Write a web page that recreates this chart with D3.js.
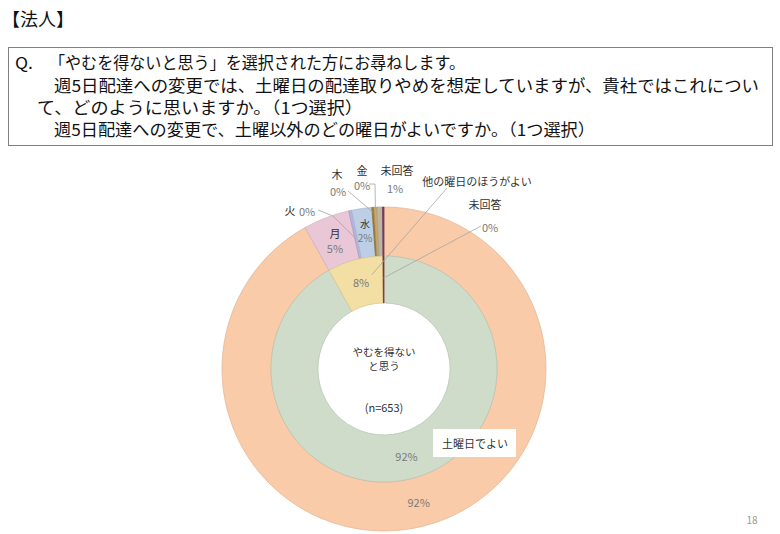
<!DOCTYPE html>
<html>
<head>
<meta charset="utf-8">
<script src="https://cdn.jsdelivr.net/npm/d3@7"></script>
<style>
  body { margin: 0; background: #fff; }
  svg { display: block; font-family: "Noto Sans CJK JP", "Noto Sans", sans-serif; }
</style>
</head>
<body>
<svg id="chart" width="780" height="534"></svg>
<script>
// inner ring: answers to the first question
const innerCats = ["土曜日でよい", "他の曜日のほうがよい", "未回答"];
const innerVals = [91.9, 7.95, 0.15];
const innerColors = ["#cfdcca", "#f3dfa3", "#8e3232"];

// outer ring: which weekday instead of Saturday
const outerCats = ["土曜日でよい", "月", "火", "水", "木", "金", "未回答", "未回答(前問)"];
const outerVals = [91.9, 4.6, 0.3, 2.0, 0.2, 0.3, 0.55, 0.15];
const outerColors = ["#f9cba8", "#e9c7d6", "#b7b3df", "#bdcfe6", "#9c7b3c", "#c9a866", "#bdb4a4", "#7b3f63"];

const sampleN = 653;

const svg = d3.select("#chart");
const cx = 384, cy = 369;
const rHole = 66, rInner = 113, rOuter = 162;

// header
svg.append("text").attr("x", 2).attr("y", 26)
  .attr("font-size", 18).attr("fill", "#111").text("【法人】");

// question box
svg.append("rect").attr("x", 8.5).attr("y", 47.5).attr("width", 764).attr("height", 98)
  .attr("fill", "none").attr("stroke", "#7f7f7f").attr("stroke-width", 1);

const qLines = [
  { x: 15, y: 69, t: "Q.", w: 18 },
  { x: 49, y: 69, t: "「やむを得ないと思う」を選択された方にお尋ねします。", w: 416 },
  { x: 54, y: 92, t: "週5日配達への変更では、土曜日の配達取りやめを想定していますが、貴社ではこれについ", w: 705 },
  { x: 37, y: 114, t: "て、どのように思いますか。（1つ選択）", w: 326 },
  { x: 54, y: 136, t: "週5日配達への変更で、土曜以外のどの曜日がよいですか。（1つ選択）", w: 541 }
];
svg.append("g").selectAll("text").data(qLines).enter().append("text")
  .attr("x", d => d.x).attr("y", d => d.y)
  .attr("font-size", 16.5).attr("fill", "#111")
  .attr("textLength", d => d.w).attr("lengthAdjust", "spacingAndGlyphs")
  .text(d => d.t);

const pie = d3.pie().sort(null).value(d => d.v);
const innerData = pie(innerCats.map((c, i) => ({ c, v: innerVals[i], col: innerColors[i] })));
const outerData = pie(outerCats.map((c, i) => ({ c, v: outerVals[i], col: outerColors[i] })));

const arcInner = d3.arc().innerRadius(rHole).outerRadius(rInner);
const arcOuter = d3.arc().innerRadius(rInner).outerRadius(rOuter);

const g = svg.append("g").attr("transform", `translate(${cx},${cy})`);

g.selectAll(".outer").data(outerData).enter().append("path")
  .attr("class", "outer")
  .attr("d", arcOuter)
  .attr("fill", d => d.data.col)
  .attr("stroke", d => d3.color(d.data.col).darker(0.35))
  .attr("stroke-width", 0.7);

g.selectAll(".inner").data(innerData).enter().append("path")
  .attr("class", "inner")
  .attr("d", arcInner)
  .attr("fill", d => d.data.col)
  .attr("stroke", d => d3.color(d.data.col).darker(0.35))
  .attr("stroke-width", 0.7);

// point on the ring at angle a (radians from 12 o'clock), radius r -> page coords
const pt = (a, r) => [cx + r * Math.sin(a), cy - r * Math.cos(a)];
const mid = d => (d.startAngle + d.endAngle) / 2;

const grey = "#7a7a7a", dark = "#333";

function label(x, y, t, col, size) {
  svg.append("text").attr("x", x).attr("y", y)
    .attr("text-anchor", "middle").attr("dominant-baseline", "central")
    .attr("font-size", size || 11).attr("fill", col).text(t);
}
// two-line label (name over percentage) as one text element
function label2(x, y, name, value, gap, size) {
  const t = svg.append("text").attr("x", x).attr("y", y)
    .attr("text-anchor", "middle").attr("font-size", size || 11);
  t.append("tspan").attr("x", x).attr("dy", 0).attr("fill", dark).text(name);
  t.append("tspan").attr("x", x).attr("dy", gap).attr("fill", grey).text(value);
}
const pct = v => Math.round(v) + "%";

// on-slice labels
const oSat = outerData[0], oMon = outerData[1], oWed = outerData[3];
let c = arcOuter.centroid(oSat);
label(cx + c[0], cy + c[1], pct(oSat.data.v), grey, 11);
c = arcOuter.centroid(oMon);
label2(cx + c[0], cy + c[1] - 3, "月", pct(oMon.data.v), 15, 11);
c = arcOuter.centroid(oWed);
label2(cx + c[0], cy + c[1] - 5, "水", pct(oWed.data.v), 14, 10);

const iSat = innerData[0], iOther = innerData[1], iNa = innerData[2];
c = arcInner.centroid(iSat);
label(cx + c[0], cy + c[1], pct(iSat.data.v), grey, 11);
c = arcInner.centroid(iOther);
label(cx + c[0], cy + c[1], pct(iOther.data.v), grey, 11);

// leader lines
const line = d3.line();
function leader(pts) {
  svg.append("path").attr("d", line(pts))
    .attr("fill", "none").attr("stroke", "#a6a6a6").attr("stroke-width", 0.8);
}

// 火
label(290, 210, "火", dark, 11);
label(307, 211, pct(outerData[2].data.v), grey, 11);
leader([[318, 210], [333, 216], pt(mid(outerData[2]), 133)]);
// 木
label(337, 174, "木", dark, 11);
label(338, 191, pct(outerData[4].data.v), grey, 11);
leader([[348, 191], pt(mid(outerData[4]), 157)]);
// 金
label(362, 170, "金", dark, 11);
label(362, 185, pct(outerData[5].data.v), grey, 11);
leader([[369, 184], [375, 184], pt(mid(outerData[5]), 159)]);
// 未回答 (outer)
label(397, 170, "未回答", dark, 11);
label(395, 188, pct(outerData[6].data.v), grey, 11);
// 他の曜日のほうがよい
label(477, 181, innerCats[1], dark, 11);
leader([[447, 188], pt(iOther.endAngle - 0.12, 95)]);
// 未回答 (inner)
label(485, 204, innerCats[2], dark, 11);
label(490, 227, pct(iNa.data.v), grey, 11);
leader([[481, 226], pt(mid(iNa), 91)]);

// 土曜日でよい box
svg.append("rect").attr("x", 433).attr("y", 429).attr("width", 83).attr("height", 28)
  .attr("fill", "#fff");
label(475, 443, innerCats[0], dark, 11);

// center
label(cx, 351, "やむを得ない", dark, 10.5);
label(cx, 365, "と思う", dark, 10.5);
label(cx, 407, `(n=${sampleN})`, dark, 11);

// page number
svg.append("text").attr("x", 752).attr("y", 524).attr("text-anchor", "middle")
  .attr("font-size", 10).attr("fill", "#999").text("18");
</script>
</body>
</html>
